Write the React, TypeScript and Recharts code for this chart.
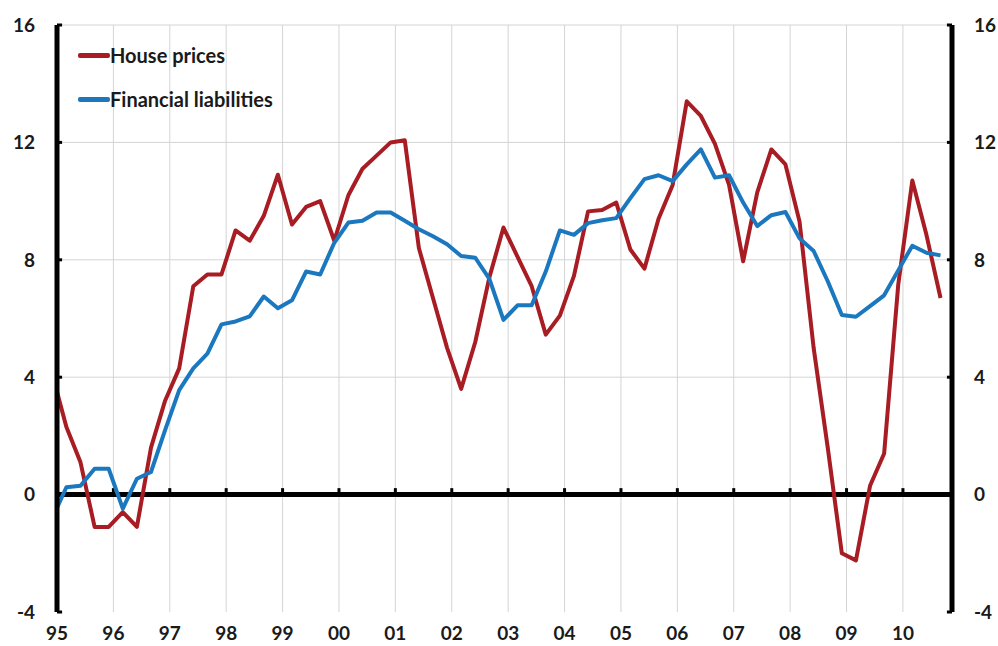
import {
  LineChart,
  Line,
  XAxis,
  YAxis,
  CartesianGrid,
  ReferenceLine,
  Legend,
} from "recharts";

// quarterly observations, first one dated Dec 1994
const firstQuarter = 1994 + 11 / 12;

const housePrices = [
  4.1, 2.3, 1.1, -1.1, -1.1, -0.6, -1.1, 1.6, 3.2, 4.3,
  7.1, 7.5, 7.5, 9.0, 8.65, 9.5, 10.9, 9.2, 9.8, 10.0,
  8.65, 10.2, 11.1, 11.55, 12.0, 12.07, 8.4, 6.7, 5.0, 3.6,
  5.2, 7.4, 9.1, 8.1, 7.1, 5.45, 6.1, 7.45, 9.65, 9.7,
  9.95, 8.35, 7.7, 9.4, 10.55, 13.4, 12.9, 11.95, 10.55, 7.95,
  10.3, 11.76, 11.25, 9.3, 5.0, 1.6, -2.0, -2.24, 0.3, 1.4,
  7.15, 10.7, 8.85, 6.7,
];

const financialLiabilities = [
  -0.8, 0.25, 0.3, 0.88, 0.88, -0.48, 0.54, 0.77, 2.2, 3.56,
  4.3, 4.8, 5.8, 5.9, 6.07, 6.75, 6.35, 6.62, 7.6, 7.5,
  8.58, 9.27, 9.33, 9.61, 9.61, 9.33, 9.04, 8.8, 8.53, 8.13,
  8.07, 7.35, 5.95, 6.45, 6.45, 7.6, 9.0, 8.85, 9.25, 9.35,
  9.42, 10.1, 10.75, 10.88, 10.68, 11.25, 11.76, 10.8, 10.88, 9.95,
  9.15, 9.52, 9.63, 8.73, 8.3, 7.27, 6.12, 6.06, 6.42, 6.79,
  7.64, 8.48, 8.24, 8.15,
];

const yearTicks = [
  1995, 1996, 1997, 1998, 1999, 2000, 2001, 2002,
  2003, 2004, 2005, 2006, 2007, 2008, 2009, 2010,
];
const valueTicks = [-4, 0, 4, 8, 12, 16];

const X_MIN = 1995;
const X_MAX = 2010.87;

const RED = "#a81c24";
const BLUE = "#1b78bf";
const FONT = "Lato, 'Open Sans', sans-serif";

const data = housePrices.map((v, i) => ({
  t: firstQuarter + i * 0.25,
  house: v,
  liab: financialLiabilities[i],
}));

const tickStyle = {
  fill: "#1a1a1a",
  fontSize: 19,
  fontWeight: 700,
  fontFamily: FONT,
};

const LegendBox = () => (
  <div style={{ fontFamily: FONT, fontWeight: 700, fontSize: 20, color: "#1a1a1a" }}>
    {[
      { label: "House prices", color: RED },
      { label: "Financial liabilities", color: BLUE },
    ].map((item, i) => (
      <div
        key={item.label}
        style={{ display: "flex", alignItems: "center", height: 24, marginTop: i === 0 ? 0 : 20 }}
      >
        <div style={{ width: 32, height: 5, background: item.color, borderRadius: 2 }} />
        <span style={{ lineHeight: "24px" }}>{item.label}</span>
      </div>
    ))}
  </div>
);

export default function App() {
  return (
    <div
      style={{
        position: "absolute",
        left: 0,
        top: 0,
        width: 998,
        height: 646,
        background: "#fff",
        fontFamily: FONT,
      }}
    >
      <LineChart
        width={998}
        height={646}
        data={data}
        margin={{ top: 25, right: 0, bottom: 0, left: 0 }}
      >
        <CartesianGrid
          yAxisId="left"
          stroke="#d4d4d4"
          strokeWidth={1}
          horizontalValues={[4, 8, 12, 16]}
        />
        <XAxis
          type="number"
          dataKey="t"
          domain={[X_MIN, X_MAX]}
          ticks={yearTicks}
          interval={0}
          allowDataOverflow
          axisLine={false}
          tickLine={false}
          tickMargin={9}
          height={34}
          tick={tickStyle}
          tickFormatter={(v: number) => String(v % 100).padStart(2, "0")}
        />
        <YAxis
          yAxisId="left"
          domain={[-4, 16]}
          ticks={valueTicks}
          interval={0}
          width={57}
          axisLine={{ stroke: "#000", strokeWidth: 5 }}
          tickLine={false}
          tickMargin={16}
          tick={tickStyle}
        />
        <YAxis
          yAxisId="right"
          orientation="right"
          domain={[-4, 16]}
          ticks={valueTicks}
          interval={0}
          width={46}
          axisLine={{ stroke: "#000", strokeWidth: 5 }}
          tickLine={false}
          tickMargin={16}
          tick={tickStyle}
        />
        <ReferenceLine yAxisId="left" y={0} stroke="#000" strokeWidth={5} />
        {/* year ticks sitting on the zero line */}
        {yearTicks.map((yr) => (
          <ReferenceLine
            key={"yt" + yr}
            yAxisId="left"
            segment={[
              { x: yr, y: 0 },
              { x: yr, y: 0.22 },
            ]}
            stroke="#000"
            strokeWidth={3}
          />
        ))}
        {/* inward ticks on both value axes */}
        {valueTicks.map((v) => (
          <ReferenceLine
            key={"lt" + v}
            yAxisId="left"
            segment={[
              { x: X_MIN, y: v },
              { x: X_MIN + 0.09, y: v },
            ]}
            stroke="#000"
            strokeWidth={3}
          />
        ))}
        {valueTicks.map((v) => (
          <ReferenceLine
            key={"rt" + v}
            yAxisId="left"
            segment={[
              { x: X_MAX - 0.09, y: v },
              { x: X_MAX, y: v },
            ]}
            stroke="#000"
            strokeWidth={3}
          />
        ))}
        <Line
          yAxisId="left"
          type="linear"
          dataKey="house"
          stroke={RED}
          strokeWidth={4}
          strokeLinejoin="round"
          dot={false}
          activeDot={false}
          isAnimationActive={false}
        />
        <Line
          yAxisId="right"
          type="linear"
          dataKey="liab"
          stroke={BLUE}
          strokeWidth={4}
          strokeLinejoin="round"
          dot={false}
          activeDot={false}
          isAnimationActive={false}
        />
        <Legend
          layout="vertical"
          align="center"
          verticalAlign="middle"
          wrapperStyle={{ left: 78, top: 43, width: 260, height: "auto" }}
          content={() => <LegendBox />}
        />
      </LineChart>
    </div>
  );
}
